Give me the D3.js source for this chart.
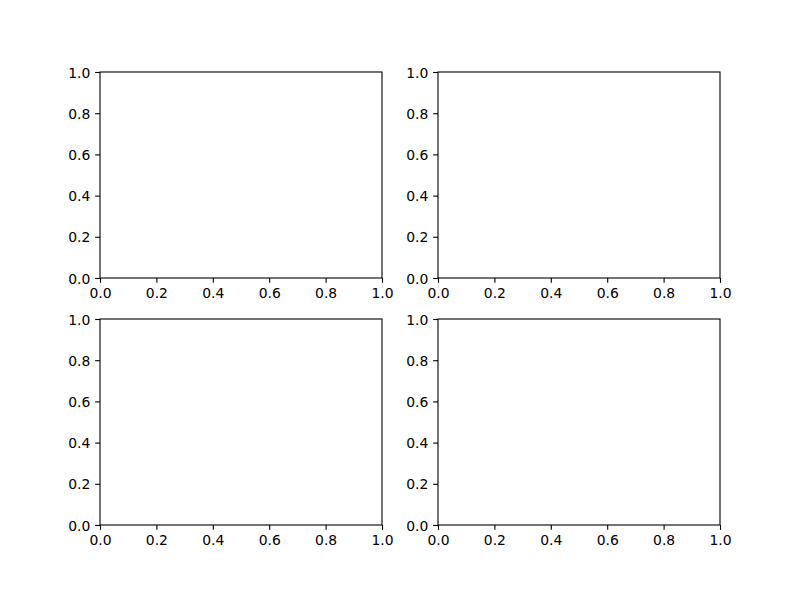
<!DOCTYPE html>
<html>
<head>
<meta charset="utf-8">
<script src="https://cdn.jsdelivr.net/npm/d3@7"></script>
<style>
  body { margin: 0; background: #fff; }
  text { font-family: "DejaVu Sans", sans-serif; }
</style>
</head>
<body>
<script>
// four empty panels, each with default 0..1 limits
const panels = ["ax1", "ax2", "ax3", "ax4"];
const xDomain = [0, 1];
const yDomain = [0, 1];
const tickValues = [0, 0.2, 0.4, 0.6, 0.8, 1.0];
const tickLabels = ["0.0", "0.2", "0.4", "0.6", "0.8", "1.0"];

const width = 800, height = 600;
const colX = [100, 438];
const rowY = [72, 319];
const axW = 282, axH = 206;
const tickLen = 4.86, tickPad = 4.86;

const svg = d3.select("body")
  .append("svg")
  .attr("width", width)
  .attr("height", height);

svg.append("rect")
  .attr("width", width)
  .attr("height", height)
  .attr("fill", "#fff");

panels.forEach((name, i) => {
  const x0 = colX[i % 2], y0 = rowY[Math.floor(i / 2)];
  const g = svg.append("g")
    .attr("class", name)
    .attr("transform", `translate(${x0},${y0})`);

  const x = d3.scaleLinear().domain(xDomain).range([0, axW]);
  const y = d3.scaleLinear().domain(yDomain).range([axH, 0]);

  const xAxis = d3.axisBottom(x)
    .tickValues(tickValues)
    .tickFormat((d, j) => tickLabels[j])
    .tickSize(tickLen)
    .tickSizeOuter(0)
    .tickPadding(tickPad);

  const yAxis = d3.axisLeft(y)
    .tickValues(tickValues)
    .tickFormat((d, j) => tickLabels[j])
    .tickSize(tickLen)
    .tickSizeOuter(0)
    .tickPadding(tickPad);

  const gx = g.append("g")
    .attr("transform", `translate(0,${axH})`)
    .call(xAxis);
  const gy = g.append("g").call(yAxis);

  [gx, gy].forEach(a => {
    a.select(".domain").remove();
    a.selectAll("line").attr("stroke", "#000").attr("stroke-width", 1.1);
    a.selectAll("text")
      .attr("fill", "#000")
      .style("font-family", "'DejaVu Sans', sans-serif")
      .style("font-size", "13.9px");
  });
  gy.selectAll("text").attr("dy", "0.36em");

  // spines
  g.append("rect")
    .attr("width", axW)
    .attr("height", axH)
    .attr("fill", "none")
    .attr("stroke", "#000")
    .attr("stroke-width", 1.1);
});
</script>
</body>
</html>
